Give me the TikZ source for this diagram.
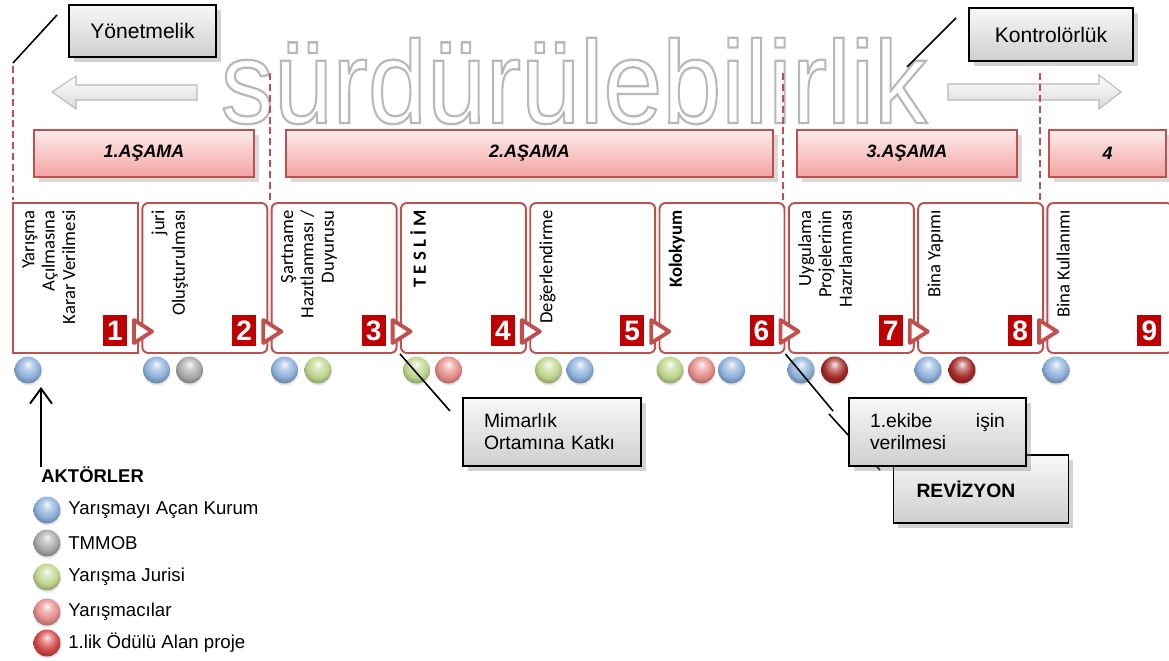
\documentclass[tikz,border=0pt]{standalone}
\usepackage{fontspec}
\setmainfont{Liberation Sans}
\newfontfamily\boxfont{Carlito}
\usepackage{graphicx}
\usetikzlibrary{shadows,arrows.meta}

\definecolor{stepred}{RGB}{192,80,77}
\definecolor{numred}{RGB}{192,0,0}
\definecolor{phasetop}{RGB}{253,236,236}
\definecolor{phasebot}{RGB}{243,163,163}
\definecolor{actblue}{RGB}{141,176,218}
\definecolor{actgray}{RGB}{168,168,168}
\definecolor{actgreen}{RGB}{190,212,140}
\definecolor{actpink}{RGB}{228,140,138}
\definecolor{actred}{RGB}{165,42,40}
\definecolor{prizered}{RGB}{210,72,70}

% soft glass ball
\makeatletter
\pgfdeclareradialshading[tikz@ball]{softball}{\pgfqpoint{0bp}{11bp}}{%
  color(0bp)=(tikz@ball!8!white);
  color(8bp)=(tikz@ball!55!white);
  color(20bp)=(tikz@ball);
  color(27bp)=(tikz@ball!80!black);
  color(50bp)=(tikz@ball!60!black)}
\makeatother

\begin{document}
\begin{tikzpicture}[x=0.02cm,y=-0.02cm,
  stepbox/.style={draw=stepred,line width=1.1pt,fill=white,rounded corners=0.12cm,minimum width=2.5cm,minimum height=3cm,inner sep=0pt},
  steptext/.style={rotate=90,anchor=north east,align=right,inner sep=0pt,font=\boxfont\fontsize{10.6}{11.6}\selectfont},
  stepnum/.style={fill=numred,text=white,font=\bfseries\fontsize{16}{16}\selectfont,minimum width=0.48cm,minimum height=0.62cm,inner sep=0pt},
  phase/.style={draw=stepred,line width=0.8pt,top color=phasetop,bottom color=phasebot,minimum height=0.94cm,font=\bfseries\itshape\fontsize{10.2}{12}\selectfont,drop shadow={opacity=0.3}},
  note/.style={draw=black,line width=0.9pt,top color=gray!6,bottom color=gray!38,drop shadow={opacity=0.35},font=\fontsize{11}{12.6}\selectfont},
  ball/.style={circle,minimum size=0.54cm,inner sep=0pt,ball color=#1,shading=softball,drop shadow={opacity=0.18,shadow xshift=0.3pt,shadow yshift=-1.2pt}},
  phaseline/.style={stepred,line width=1.1pt,dash pattern=on 4pt off 2.2pt},
  nextmark/.style={draw=stepred,fill=white,line width=2.2pt,line join=round},
  sidearrow/.style={top color=white,bottom color=gray!30,draw=gray!55,line width=0.6pt},
  legend/.style={anchor=west,inner sep=0pt,font=\fontsize{10.6}{12}\selectfont}]

\useasboundingbox (0,0) rectangle (1169,660);

% the big word and the two side arrows
\node[text=white,anchor=base,inner sep=0pt,font=\fontsize{67}{67}\selectfont] (word) at (574,123) {\scalebox{0.9}[1]{\special{pdf:literal direct 2 Tr 1.3 w 0.72 0.72 0.72 RG}sürdürülebilirlik\special{pdf:literal direct 0 Tr}}};
\shade[sidearrow] (52,92) -- (76,76) -- (76,85) -- (197,85) -- (197,100) -- (76,100) -- (76,109) -- cycle;
\shade[sidearrow] (948,84) -- (1099,84) -- (1099,75) -- (1121,92) -- (1099,109) -- (1099,100) -- (948,100) -- cycle;

\node[note,font=\fontsize{12}{14}\selectfont,minimum width=2.94cm,minimum height=1.04cm] (rule) at (142.5,31) {Yönetmelik};
\coordinate (rulea) at (57,15);
\coordinate (ruleb) at (13,63);
\draw[line width=0.9pt] (rulea) -- (ruleb);
\node[note,font=\fontsize{12}{14}\selectfont,minimum width=3.28cm,minimum height=1.06cm] (control) at (1051,34.5) {Kontrolörlük};
\coordinate (controla) at (956,18);
\coordinate (controlb) at (907,67);
\draw[line width=0.9pt] (controla) -- (controlb);

% phases
\node[phase,minimum width=4.4cm] (p1) at (144,153.5) {1.AŞAMA};
\node[phase,minimum width=9.74cm] (p2) at (529.5,153.5) {2.AŞAMA};
\node[phase,minimum width=4.4cm] (p3) at (907,153.5) {3.AŞAMA};
\node[phase,minimum width=2.34cm] (p4) at (1107.5,153.5) {4};

\draw[phaseline] (13,66) -- (13,200);
\draw[phaseline] (270,73) -- (270,200);
\draw[phaseline] (783,73) -- (783,200);
\draw[phaseline] (1040,73) -- (1040,200);

% steps
\node[stepbox,sharp corners] (s1) at (75.5,278) {};
\foreach \i in {2,...,9}
  \node[stepbox] (s\i) at ({75.5+(\i-1)*129.3},278) {};
\foreach \i in {1,...,8}
  \draw[nextmark] ({134+(\i-1)*129.3},320) -- ({152+(\i-1)*129.3},331.5) -- ({134+(\i-1)*129.3},343) -- cycle;
\foreach \i in {1,...,9}
  \node[stepnum] (n\i) at ({115+(\i-1)*129.3},330.5) {\i};

\node[steptext] (t1) at (22,210) {Yarışma\\Açılmasına\\Karar Verilmesi};
\node[steptext] (t2) at (151.3,210) {juri\\Oluşturulması};
\node[steptext] (t3) at (280.6,210) {Şartname\\Hazıtlanması /\\Duyurusu};
\node[steptext] (t4) at (409.9,210) {\textbf{T E S L İ M}};
\node[steptext] (t5) at (539.2,210) {Değerlendirme};
\node[steptext] (t6) at (668.5,210) {\textbf{Kolokyum}};
\node[steptext] (t7) at (797.8,210) {Uygulama\\Projelerinin\\Hazırlanması};
\node[steptext] (t8) at (927.1,210) {Bina Yapımı};
\node[steptext] (t9) at (1056.4,210) {Bina Kullanımı};

% actors under the steps
\node[ball=actblue] (a1) at (28,370) {};
\node[ball=actblue] (a2) at (156.5,370) {};
\node[ball=actgray] (a3) at (189.5,370) {};
\node[ball=actblue] (a4) at (284.5,370) {};
\node[ball=actgreen] (a5) at (318,370) {};
\node[ball=actgreen] (a6) at (416.5,370) {};
\node[ball=actpink] (a7) at (448.5,370) {};
\node[ball=actgreen] (a8) at (548.5,370) {};
\node[ball=actblue] (a9) at (580,370) {};
\node[ball=actgreen] (a10) at (670,370) {};
\node[ball=actpink] (a11) at (701.5,370) {};
\node[ball=actblue] (a12) at (731.5,370) {};
\node[ball=actblue] (a13) at (801,370) {};
\node[ball=actred] (a14) at (834.5,370) {};
\node[ball=actblue] (a15) at (928,370) {};
\node[ball=actred] (a16) at (962,370) {};
\node[ball=actblue] (a17) at (1056,370) {};

% notes below
\coordinate (mimend) at (450,411);
\draw[line width=0.9pt] (s4.south west) -- (mimend);
\node[note,text width=2.72cm,inner xsep=0.42cm,minimum height=1.36cm,align=left] (mim) at (552,432) {Mimarlık\\Ortamına Katkı};

\coordinate (reva) at (829,414);
\coordinate (revb) at (880,470);
\draw[line width=0.9pt] (reva) -- (revb);
\node[note,font=\bfseries\fontsize{11}{12.6}\selectfont,text width=2.58cm,inner xsep=0.46cm,minimum height=1.36cm,align=left] (rev) at (981,489) {REVİZYON};
\coordinate (jobend) at (833,411);
\draw[line width=0.9pt] (s6.south east) -- (jobend);
\node[note,text width=2.7cm,inner xsep=0.42cm,minimum height=1.36cm,align=left] (job) at (937.5,432) {\hbox to 2.7cm{1.ekibe\hfill işin}\\verilmesi};

% legend
\node[legend,font=\bfseries\fontsize{10.5}{12}\selectfont] (actors) at (41,475) {AKTÖRLER};
\coordinate (actorsup) at (41,387);
\draw[line width=1.1pt,-{Straight Barb[length=0.3cm,width=0.44cm]}] (actors.north west) -- (actorsup);
\node[ball=actblue] (l1) at (47,510) {};
\node[legend] at (68,510) {Yarışmayı Açan Kurum};
\node[ball=actgray] (l2) at (47,543) {};
\node[legend] at (68,543) {TMMOB};
\node[ball=actgreen] (l3) at (47,577) {};
\node[legend] at (68,577) {Yarışma Jurisi};
\node[ball=actpink] (l4) at (47,612) {};
\node[legend] at (68,612) {Yarışmacılar};
\node[ball=prizered] (l5) at (47,643) {};
\node[legend] at (68,643) {1.lik Ödülü Alan proje};

\end{tikzpicture}
\end{document}
